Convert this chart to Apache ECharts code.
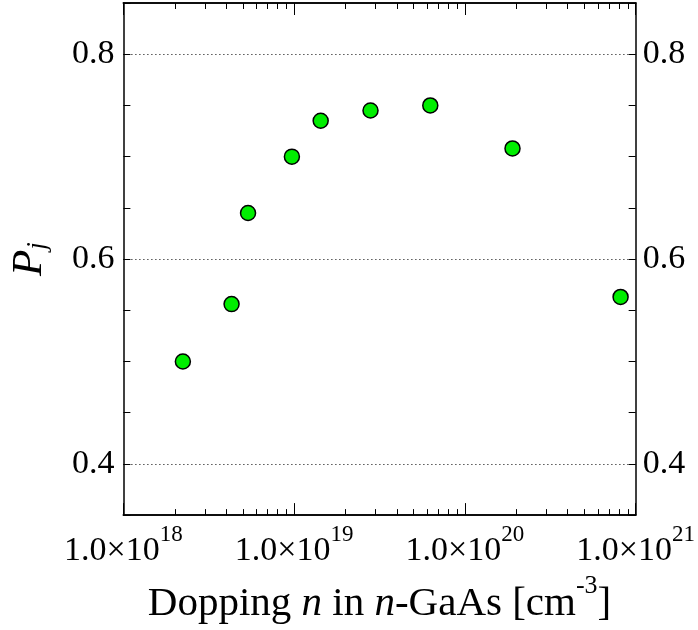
<!DOCTYPE html>
<html>
<head>
<meta charset="utf-8">
<script src="https://cdn.jsdelivr.net/npm/echarts@6/dist/echarts.min.js"></script>
<style>
  html, body { margin: 0; padding: 0; background: #fff; }
  #chart { width: 698px; height: 630px; }
</style>
</head>
<body>
<div id="chart"></div>
<script>
// doping concentration (cm^-3) and measured P_j
const doping = [2.23e18, 4.3e18, 5.37e18, 9.7e18, 1.43e19, 2.8e19, 6.27e19, 1.9e20, 8.16e20]
const pj = [0.5, 0.556, 0.645, 0.7, 0.735, 0.745, 0.75, 0.708, 0.563]
const yLabelValues = [0.4, 0.6, 0.8]
const xMinorTicks = [
  2e18, 3e18, 4e18, 5e18, 6e18, 7e18, 8e18, 9e18,
  2e19, 3e19, 4e19, 5e19, 6e19, 7e19, 8e19, 9e19,
  2e20, 3e20, 4e20, 5e20, 6e20, 7e20, 8e20, 9e20,
]

const FONT = '"Liberation Serif", "Times New Roman", serif'
const chart = echarts.init(document.getElementById('chart'))

function isLabelTick(v) {
  return yLabelValues.some((t) => Math.abs(t - v) < 1e-6)
}

// minor ticks live on a plain value axis that spans the exponents 18..21
function minorTickAxis(position) {
  return {
    type: 'value',
    min: 18,
    max: 21,
    position: position,
    axisLine: { show: true, onZero: false, lineStyle: { color: '#000', width: 1.5 } },
    splitLine: { show: false },
    axisLabel: { show: false },
    axisTick: {
      show: true,
      inside: true,
      length: 6,
      customValues: xMinorTicks.map((v) => Math.log10(v)),
      lineStyle: { color: '#000', width: 1 },
    },
  }
}

function yAxisBase(position) {
  return {
    type: 'value',
    min: 0.35,
    max: 0.85,
    interval: 0.05,
    position: position,
    axisLine: { show: true, onZero: false, lineStyle: { color: '#000', width: 1.5 } },
    axisTick: { show: true, inside: true, length: 7, lineStyle: { color: '#000', width: 1 } },
    splitLine: { show: false },
    axisLabel: {
      margin: position === 'left' ? 9 : 7,
      fontFamily: FONT,
      fontSize: 34,
      color: '#000',
      showMinLabel: true,
      showMaxLabel: true,
      formatter: (v) => (isLabelTick(v) ? v.toFixed(1) : ''),
    },
  }
}

const options = {
  animation: false,
  backgroundColor: '#fff',
  grid: { left: 122, right: 62, top: 3, bottom: 113 },
  xAxis: [
    {
      type: 'log',
      logBase: 10,
      min: 1e18,
      max: 1e21,
      position: 'bottom',
      splitLine: { show: false },
      axisLine: { show: true, onZero: false, lineStyle: { color: '#000', width: 1.5 } },
      axisTick: { show: true, inside: true, length: 12, lineStyle: { color: '#000', width: 1 } },
      axisLabel: {
        show: true,
        margin: 19,
        showMinLabel: true,
        showMaxLabel: true,
        formatter: (v) => '{m|1.0×10}{s|' + Math.round(Math.log10(v)) + '}',
        rich: {
          m: { fontFamily: FONT, fontSize: 34, color: '#000', lineHeight: 34, verticalAlign: 'bottom' },
          s: { fontFamily: FONT, fontSize: 23, color: '#000', lineHeight: 23, padding: [0, 0, 22, 0], verticalAlign: 'bottom' },
        },
      },
      name: '{t|Dopping }{i|n}{t| in }{i|n}{t|-GaAs [cm}{s|-3}{t|]}',
      nameLocation: 'middle',
      nameGap: 67,
      nameTextStyle: {
        rich: {
          t: { fontFamily: FONT, fontSize: 41, color: '#000', lineHeight: 41, verticalAlign: 'bottom' },
          i: { fontFamily: FONT, fontSize: 41, fontStyle: 'italic', color: '#000', lineHeight: 41, verticalAlign: 'bottom' },
          s: { fontFamily: FONT, fontSize: 26, color: '#000', lineHeight: 26, padding: [0, 0, 26, 0], verticalAlign: 'bottom' },
        },
      },
    },
    minorTickAxis('bottom'),
    {
      type: 'log',
      logBase: 10,
      min: 1e18,
      max: 1e21,
      position: 'top',
      splitLine: { show: false },
      axisLabel: { show: false },
      axisLine: { show: true, onZero: false, lineStyle: { color: '#000', width: 1.5 } },
      axisTick: { show: true, inside: true, length: 12, lineStyle: { color: '#000', width: 1 } },
    },
    minorTickAxis('top'),
  ],
  yAxis: [
    Object.assign(yAxisBase('left'), {
      name: '{p|P}{j|j}',
      nameLocation: 'middle',
      nameRotate: 90,
      nameGap: 58,
      nameTextStyle: {
        rich: {
          p: { fontFamily: FONT, fontSize: 43, fontStyle: 'italic', color: '#000', lineHeight: 43, padding: [0, 0, 10, 0], verticalAlign: 'top' },
          j: { fontFamily: FONT, fontSize: 27, fontStyle: 'italic', color: '#000', lineHeight: 27, verticalAlign: 'bottom' },
        },
      },
    }),
    yAxisBase('right'),
  ],
  series: [
    {
      type: 'scatter',
      xAxisIndex: 0,
      yAxisIndex: 0,
      data: doping.map((d, i) => [d, pj[i]]),
      symbol: 'circle',
      symbolSize: 15,
      itemStyle: { color: '#00ee00', borderColor: '#000', borderWidth: 1.5, opacity: 1 },
      markLine: {
        silent: true,
        symbol: 'none',
        label: { show: false },
        lineStyle: { color: '#000', type: [1, 3], width: 1 },
        data: yLabelValues.map((v) => ({ yAxis: v })),
      },
    },
  ],
}

chart.setOption(options)
</script>
</body>
</html>
